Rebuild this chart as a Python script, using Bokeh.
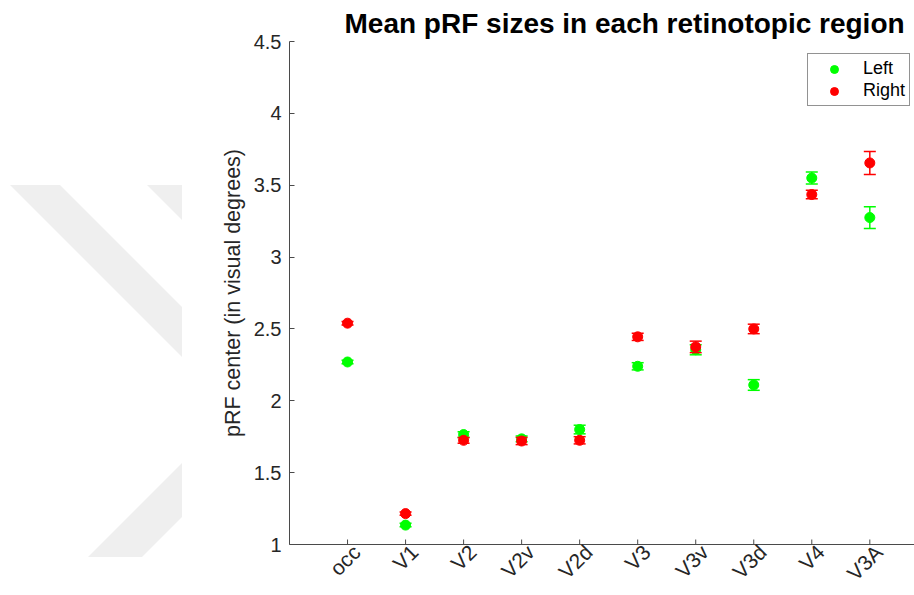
from bokeh.plotting import figure
from bokeh.layouts import row
from bokeh.models import (Range1d, FixedTicker, Legend, LegendItem, Div,
                          LinearAxis)
from bokeh.embed import file_html
from bokeh.resources import INLINE
import math

# Mean pRF size per retinotopic region, with standard errors
categories = ["occ", "V1", "V2", "V2v", "V2d", "V3", "V3v", "V3d", "V4", "V3A"]
left_mean = [2.27, 1.135, 1.765, 1.735, 1.80, 2.24, 2.355, 2.11, 3.55, 3.275]
left_err = [0.012, 0.012, 0.02, 0.02, 0.03, 0.025, 0.035, 0.037, 0.042, 0.076]
right_mean = [2.54, 1.215, 1.725, 1.72, 1.725, 2.445, 2.375, 2.50, 3.435, 3.655]
right_err = [0.012, 0.012, 0.02, 0.025, 0.025, 0.025, 0.04, 0.033, 0.03, 0.08]
y_ticks = [1, 1.5, 2, 2.5, 3, 3.5, 4, 4.5]

FONT = "Liberation Sans"
INK = "#262626"
AXIS = "#4a4a4a"
GREEN = "#00ff00"
RED = "#ff0000"
X_MIN, X_MAX = 0, 10.77
Y_MIN, Y_MAX = 1, 4.5
LABEL_SHIFT = 0.155  # rotated category names sit slightly right of their ticks

# faint background emblem in the left margin (pixel polygons)
emblem = [
    [(10, 185), (60, 185), (182, 307), (182, 357)],
    [(147, 185), (182, 185), (182, 220)],
    [(88, 557), (142, 557), (182, 517), (182, 463)],
]
polys = "".join(
    '<polygon fill="#efefef" points="%s"/>' % " ".join(f"{a},{b}" for a, b in poly)
    for poly in emblem
)
wm = Div(text=f'<svg width="182" height="595" style="display:block">{polys}</svg>',
         width=182, height=595, margin=0)

x = list(range(1, len(categories) + 1))

p = figure(width=732, height=595, output_backend="svg", toolbar_location=None,
           x_range=Range1d(X_MIN, X_MAX), y_range=Range1d(Y_MIN, Y_MAX),
           x_axis_location=None,
           min_border_left=107, min_border_right=0,
           min_border_top=41, min_border_bottom=50)
p.grid.visible = False
p.outline_line_color = None

p.title.text = "Mean pRF sizes in each retinotopic region"
p.title.text_font = FONT
p.title.text_font_size = "28px"
p.title.text_font_style = "bold"
p.title.text_color = "#000000"
p.title.align = "left"
p.title.offset = 55
p.title.standoff = 6

yax = p.yaxis[0]
yax.axis_line_color = AXIS
yax.major_tick_line_color = AXIS
yax.major_tick_in = 5
yax.major_tick_out = 0
yax.minor_tick_line_color = None
yax.major_label_text_font = FONT
yax.major_label_text_color = INK
yax.major_label_text_font_size = "20px"
yax.ticker = FixedTicker(ticks=y_ticks)
yax.major_label_overrides = {t: f"{t:g}" for t in y_ticks}
yax.major_label_standoff = 8
yax.axis_label = "pRF center (in visual degrees)"
yax.axis_label_text_font = FONT
yax.axis_label_text_font_size = "21.5px"
yax.axis_label_text_font_style = "normal"
yax.axis_label_text_color = INK
yax.axis_label_standoff = 6

# category axis: names on a slightly offset copy of the x range
p.extra_x_ranges = {"names": Range1d(X_MIN - LABEL_SHIFT, X_MAX - LABEL_SHIFT)}
xax = LinearAxis(x_range_name="names", ticker=FixedTicker(ticks=x),
                 major_label_overrides={i: c for i, c in zip(x, categories)})
xax.axis_line_color = AXIS
xax.major_tick_line_color = None
xax.major_tick_in = 0
xax.major_tick_out = 0
xax.minor_tick_line_color = None
xax.minor_tick_in = 0
xax.minor_tick_out = 0
xax.major_label_text_font = FONT
xax.major_label_text_color = INK
xax.major_label_text_font_size = "21px"
xax.major_label_orientation = math.pi / 4
xax.major_label_standoff = 4
p.add_layout(xax, "below")

# inward tick marks at each category (half of each dash is clipped by the frame)
p.scatter(x=x, y=[Y_MIN] * len(x), marker="dash", angle=math.pi / 2, size=10,
          line_color=AXIS, line_width=1)


def draw_series(mean, err, color):
    lo = [m - e for m, e in zip(mean, err)]
    hi = [m + e for m, e in zip(mean, err)]
    p.segment(x0=x, y0=lo, x1=x, y1=hi, line_color=color, line_width=1.5)
    p.scatter(x=x + x, y=lo + hi, marker="dash", size=12,
              line_color=color, line_width=1.5)
    return p.scatter(x=x, y=mean, marker="circle", size=10,
                     fill_color=color, line_color=color)


r_left = draw_series(left_mean, left_err, GREEN)
r_right = draw_series(right_mean, right_err, RED)

legend = Legend(items=[LegendItem(label="Left", renderers=[r_left]),
                       LegendItem(label="Right", renderers=[r_right])],
                location=(518, 438))
legend.label_text_font = FONT
legend.label_text_font_size = "18px"
legend.label_text_color = "#000000"
legend.glyph_width = 44
legend.glyph_height = 20
legend.label_height = 20
legend.label_standoff = 7
legend.spacing = 1
legend.padding = 4
legend.margin = 0
legend.border_line_color = INK
legend.border_line_width = 1
legend.background_fill_color = "white"
p.add_layout(legend)

layout = row(wm, p)
open("out.html", "w").write(file_html(layout, INLINE))
